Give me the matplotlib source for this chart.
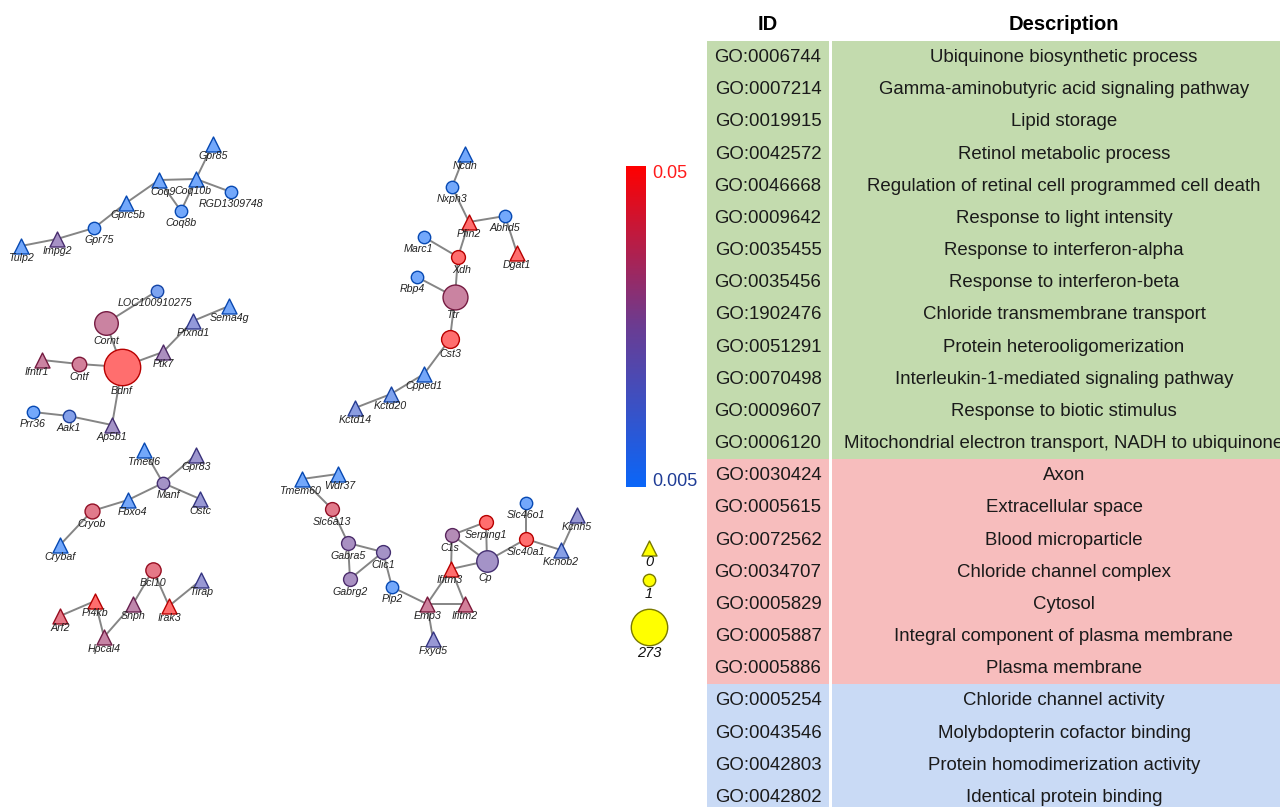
import numpy as np
import matplotlib
matplotlib.use("Agg")
import matplotlib.pyplot as plt
from matplotlib.colors import LinearSegmentedColormap, Normalize, to_rgb
from matplotlib.patches import Rectangle
from matplotlib.cm import ScalarMappable

plt.rcParams['font.family'] = ['Liberation Sans', 'DejaVu Sans']

# ---------------- data ----------------
go_ids = ["GO:0006744", "GO:0007214", "GO:0019915", "GO:0042572", "GO:0046668",
          "GO:0009642", "GO:0035455", "GO:0035456", "GO:1902476", "GO:0051291",
          "GO:0070498", "GO:0009607", "GO:0006120", "GO:0030424", "GO:0005615",
          "GO:0072562", "GO:0034707", "GO:0005829", "GO:0005887", "GO:0005886",
          "GO:0005254", "GO:0043546", "GO:0042803", "GO:0042802"]
go_desc = ["Ubiquinone biosynthetic process",
           "Gamma-aminobutyric acid signaling pathway",
           "Lipid storage",
           "Retinol metabolic process",
           "Regulation of retinal cell programmed cell death",
           "Response to light intensity",
           "Response to interferon-alpha",
           "Response to interferon-beta",
           "Chloride transmembrane transport",
           "Protein heterooligomerization",
           "Interleukin-1-mediated signaling pathway",
           "Response to biotic stimulus",
           "Mitochondrial electron transport, NADH to ubiquinone",
           "Axon",
           "Extracellular space",
           "Blood microparticle",
           "Chloride channel complex",
           "Cytosol",
           "Integral component of plasma membrane",
           "Plasma membrane",
           "Chloride channel activity",
           "Molybdopterin cofactor binding",
           "Protein homodimerization activity",
           "Identical protein binding"]
go_category = ["BP"] * 13 + ["CC"] * 7 + ["MF"] * 4

node_names = ["Gpr85", "Coq10b", "Coq9", "RGD1309748", "Coq8b", "Gprc5b", "Gpr75", "Impg2", "Tulp2",
              "LOC100910275", "Cornt", "Sema4g", "Pfxnd1", "Ptk7", "Bdnf", "Cntf", "Ifntr1",
              "Prr36", "Aak1", "Ap5b1",
              "Tmed6", "Gpr83", "Manf", "Ostc", "Fbxo4", "Cryob", "Crybaf",
              "Bcl10", "Tirap", "Irak3", "Snph", "Pi4kb", "Arf2", "Hpcal4",
              "Ncdn", "Nxph3", "Pfin2", "Abhd5", "Dgat1", "Marc1", "Xdh", "Rbp4", "Ttr",
              "Cst3", "Cpped1", "Kctd20", "Kctd14",
              "Tmem60", "Wdr37", "Slc6a13", "Gabra5", "Clic1", "Gabrg2", "Plp2", "Emp3",
              "Ifitm2", "Ifitm3", "Fxyd5", "C1s", "Serping1", "Cp", "Slc40a1", "Slc46o1",
              "Kcnh5", "Kcnob2"]
node_size_value = [0, 0, 0, 1, 1, 0, 1, 0, 0,
                   1, 60, 0, 0, 0, 273, 3, 0,
                   1, 1, 0,
                   0, 0, 1, 0, 0, 4, 0,
                   5, 0, 0, 0, 0, 0, 0,
                   0, 1, 0, 1, 0, 1, 2, 1, 75,
                   15, 0, 0, 0,
                   0, 0, 2, 2, 2, 2, 1, 0,
                   0, 0, 0, 2, 2, 40, 2, 1,
                   0, 0]
node_pvalue = [0.005, 0.005, 0.005, 0.005, 0.005, 0.005, 0.005, 0.026, 0.005,
               0.009, 0.036, 0.006, 0.018, 0.028, 0.05, 0.038, 0.036,
               0.005, 0.012, 0.025,
               0.005, 0.022, 0.025, 0.02, 0.006, 0.042, 0.005,
               0.043, 0.02, 0.05, 0.033, 0.05, 0.043, 0.035,
               0.005, 0.005, 0.05, 0.005, 0.05, 0.005, 0.05, 0.005, 0.036,
               0.05, 0.006, 0.01, 0.015,
               0.005, 0.005, 0.042, 0.027, 0.025, 0.027, 0.005, 0.037,
               0.038, 0.05, 0.02, 0.03, 0.05, 0.025, 0.05, 0.005,
               0.02, 0.013]

edges = [("Gpr85", "Coq10b"), ("Coq10b", "Coq9"), ("Coq10b", "RGD1309748"), ("Coq10b", "Coq8b"),
         ("Coq9", "Coq8b"), ("Coq9", "Gprc5b"), ("Gprc5b", "Gpr75"), ("Gpr75", "Impg2"),
         ("Impg2", "Tulp2"),
         ("LOC100910275", "Cornt"), ("Cornt", "Bdnf"), ("Sema4g", "Pfxnd1"), ("Pfxnd1", "Ptk7"),
         ("Ptk7", "Bdnf"), ("Bdnf", "Cntf"), ("Cntf", "Ifntr1"), ("Bdnf", "Ap5b1"),
         ("Ap5b1", "Aak1"), ("Aak1", "Prr36"),
         ("Tmed6", "Manf"), ("Gpr83", "Manf"), ("Manf", "Ostc"), ("Manf", "Fbxo4"),
         ("Fbxo4", "Cryob"), ("Cryob", "Crybaf"),
         ("Bcl10", "Snph"), ("Bcl10", "Irak3"), ("Irak3", "Tirap"), ("Snph", "Hpcal4"),
         ("Hpcal4", "Pi4kb"), ("Pi4kb", "Arf2"),
         ("Ncdn", "Nxph3"), ("Nxph3", "Pfin2"), ("Pfin2", "Abhd5"), ("Abhd5", "Dgat1"),
         ("Pfin2", "Xdh"), ("Marc1", "Xdh"), ("Xdh", "Ttr"), ("Rbp4", "Ttr"), ("Ttr", "Cst3"),
         ("Cst3", "Cpped1"), ("Cpped1", "Kctd20"), ("Kctd20", "Kctd14"),
         ("Tmem60", "Wdr37"), ("Tmem60", "Slc6a13"), ("Slc6a13", "Gabra5"),
         ("Gabra5", "Gabrg2"), ("Gabra5", "Clic1"), ("Gabrg2", "Clic1"), ("Clic1", "Plp2"),
         ("Plp2", "Emp3"), ("Emp3", "Ifitm2"), ("Emp3", "Ifitm3"), ("Ifitm3", "Ifitm2"),
         ("Emp3", "Fxyd5"), ("Ifitm3", "C1s"), ("Ifitm3", "Cp"), ("C1s", "Serping1"),
         ("C1s", "Cp"), ("Serping1", "Cp"), ("Cp", "Slc40a1"), ("Slc40a1", "Slc46o1"),
         ("Slc40a1", "Kcnob2"), ("Kcnob2", "Kcnh5")]

legend_values = [0, 1, 273]
p_min, p_max = 0.005, 0.05

# ---------------- layout (pixel positions of the network drawing) ----------------
layout = {
    "Gpr85": (213, 144), "Coq10b": (196, 179), "Coq9": (159, 180), "RGD1309748": (231, 192),
    "Coq8b": (181, 211), "Gprc5b": (126, 203), "Gpr75": (94, 228), "Impg2": (57, 239),
    "Tulp2": (21, 246),
    "LOC100910275": (157, 291), "Cornt": (106, 323), "Sema4g": (229, 306), "Pfxnd1": (193, 321),
    "Ptk7": (163, 352), "Bdnf": (122, 367), "Cntf": (79, 364), "Ifntr1": (42, 360),
    "Prr36": (33, 412), "Aak1": (69, 416), "Ap5b1": (112, 425),
    "Tmed6": (144, 450), "Gpr83": (196, 455), "Manf": (163, 483), "Ostc": (200, 499),
    "Fbxo4": (128, 500), "Cryob": (92, 511), "Crybaf": (60, 545),
    "Bcl10": (153, 570), "Tirap": (201, 580), "Irak3": (169, 606), "Snph": (133, 604),
    "Pi4kb": (95, 601), "Arf2": (60, 616), "Hpcal4": (104, 637),
    "Ncdn": (465, 154), "Nxph3": (452, 187), "Pfin2": (469, 222), "Abhd5": (505, 216),
    "Dgat1": (517, 253), "Marc1": (424, 237), "Xdh": (458, 257), "Rbp4": (417, 277),
    "Ttr": (455, 297), "Cst3": (450, 339), "Cpped1": (424, 374), "Kctd20": (391, 394),
    "Kctd14": (355, 408),
    "Tmem60": (302, 479), "Wdr37": (338, 474), "Slc6a13": (332, 509), "Gabra5": (348, 543),
    "Clic1": (383, 552), "Gabrg2": (350, 579), "Plp2": (392, 587), "Emp3": (427, 604),
    "Ifitm2": (465, 604), "Ifitm3": (451, 569), "Fxyd5": (433, 639), "C1s": (452, 535),
    "Serping1": (486, 522), "Cp": (487, 561), "Slc40a1": (526, 539), "Slc46o1": (526, 503),
    "Kcnh5": (577, 515), "Kcnob2": (561, 550),
}
label_shift = {"Marc1": (-6, 0), "Rbp4": (-5, 0), "Xdh": (4, 0), "Impg2": (0, 0),
               "Coq9": (4, 0), "Coq10b": (-3, 0), "Gpr75": (5, 0), "Manf": (5, 0),
               "Fbxo4": (4, 0), "Ifntr1": (-5, 0), "Gprc5b": (2, 0), "Kctd20": (-1, 0),
               "Tmem60": (-2, 0), "Wdr37": (2, 0), "C1s": (-2, 0), "Cp": (-2, 0),
               "Ttr": (-2, 0), "Emp3": (1, 0), "Ifitm3": (-1, -1), "LOC100910275": (-2, 0)}

# ---------------- style ----------------
cmap = LinearSegmentedColormap.from_list(
    "pv", [(0.0, "#0A66F8"), (0.5, "#6A3C92"), (1.0, "#FF0000")])
norm = Normalize(p_min, p_max)

def node_radius(v):
    v = np.asarray(v, dtype=float)
    return np.where(v <= 0, 6.5, 6.2 + 12 * np.sqrt(np.clip(v - 1, 0, None) / 272.0))

def light(c, a=0.57):
    c = np.array(to_rgb(c))
    return tuple(a * c + (1 - a) * 1.0)

def dark(c, f=0.72):
    return tuple(np.array(to_rgb(c)) * f)

W, H = 1280, 807
fig = plt.figure(figsize=(12.8, 8.07), dpi=100)
ax = fig.add_axes([0, 0, 1, 1])
ax.set_xlim(0, W)
ax.set_ylim(H, 0)
ax.axis("off")

px2pt = 72.0 / 100.0
tri_px = 15.0

# edges
for a, b in edges:
    (x1, y1), (x2, y2) = layout[a], layout[b]
    ax.plot([x1, x2], [y1, y2], color="#858585", lw=1.4, zorder=1, solid_capstyle="round")

# nodes
radii = node_radius(node_size_value)
for name, sv, pv, r in zip(node_names, node_size_value, node_pvalue, radii):
    x, y = layout[name]
    base = cmap(norm(pv))
    if sv == 0:
        ms = tri_px * px2pt
        ax.scatter([x], [y], s=ms ** 2, marker="^", facecolor=light(base), edgecolor=dark(base),
                   linewidth=1.0, zorder=3)
        off = 7.0
    else:
        ms = 2 * r * px2pt
        ax.scatter([x], [y], s=ms ** 2, marker="o", facecolor=light(base), edgecolor=dark(base),
                   linewidth=1.0, zorder=3)
        off = r + 0.8
    dx, dy = label_shift.get(name, (0, 0))
    ax.text(x + dx, y + off + dy, name, ha="center", va="top", fontsize=7.7,
            style="italic", color="#222222", zorder=4)

# colorbar
cax = fig.add_axes([626 / W, 1 - 487 / H, 20 / W, 321 / H])
cb = fig.colorbar(ScalarMappable(norm=norm, cmap=cmap), cax=cax)
cb.outline.set_visible(False)
cax.set_yticks([])
ax.text(652, 173, "0.05", color="#FF1A1A", fontsize=13, va="center", ha="left")
ax.text(652, 481, "0.005", color="#1F3C96", fontsize=13, va="center", ha="left")

# size legend
leg_y = [548, 580, 627]
lr = node_radius(legend_values)
for v, yy, r in zip(legend_values, leg_y, lr):
    if v == 0:
        ax.scatter([649], [yy], s=(tri_px * px2pt) ** 2, marker="^", facecolor="#FFFF00",
                   edgecolor="#7a7a00", linewidth=1.0, zorder=3)
        off = 7
    else:
        ax.scatter([649], [yy], s=(2 * r * px2pt) ** 2, marker="o", facecolor="#FFFF00",
                   edgecolor="#7a7a00", linewidth=1.0, zorder=3)
        off = r + 1
    ax.text(649, yy + off, str(v), ha="center", va="top", fontsize=10.5, style="italic",
            color="#111111")

# table
cat_color = {"BP": "#C3DBAE", "CC": "#F7BDBD", "MF": "#C9DAF5"}
row_top0, row_h = 40.5, 32.17
id_x0, id_x1 = 707, 829
de_x0, de_x1 = 832, 1296
ax.text((id_x0 + id_x1) / 2, 24, "ID", ha="center", va="center", fontsize=14.5,
        fontweight="bold", color="black")
ax.text((de_x0 + de_x1) / 2, 24, "Description", ha="center", va="center", fontsize=14.5,
        fontweight="bold", color="black")
for i, (gid, desc, cat) in enumerate(zip(go_ids, go_desc, go_category)):
    top = row_top0 + i * row_h
    col = cat_color[cat]
    ax.add_patch(Rectangle((id_x0, top), id_x1 - id_x0, row_h, facecolor=col,
                           edgecolor="none", zorder=0))
    ax.add_patch(Rectangle((de_x0, top), de_x1 - de_x0, row_h, facecolor=col,
                           edgecolor="none", zorder=0))
    yc = top + row_h / 2 + 1
    ax.text((id_x0 + id_x1) / 2, yc, gid, ha="center", va="center", fontsize=13.4,
            color="#1a1a1a", clip_on=True)
    ax.text((de_x0 + de_x1) / 2, yc, desc, ha="center", va="center", fontsize=13.4,
            color="#1a1a1a", clip_on=True)

fig.savefig("out.png", dpi=100)
